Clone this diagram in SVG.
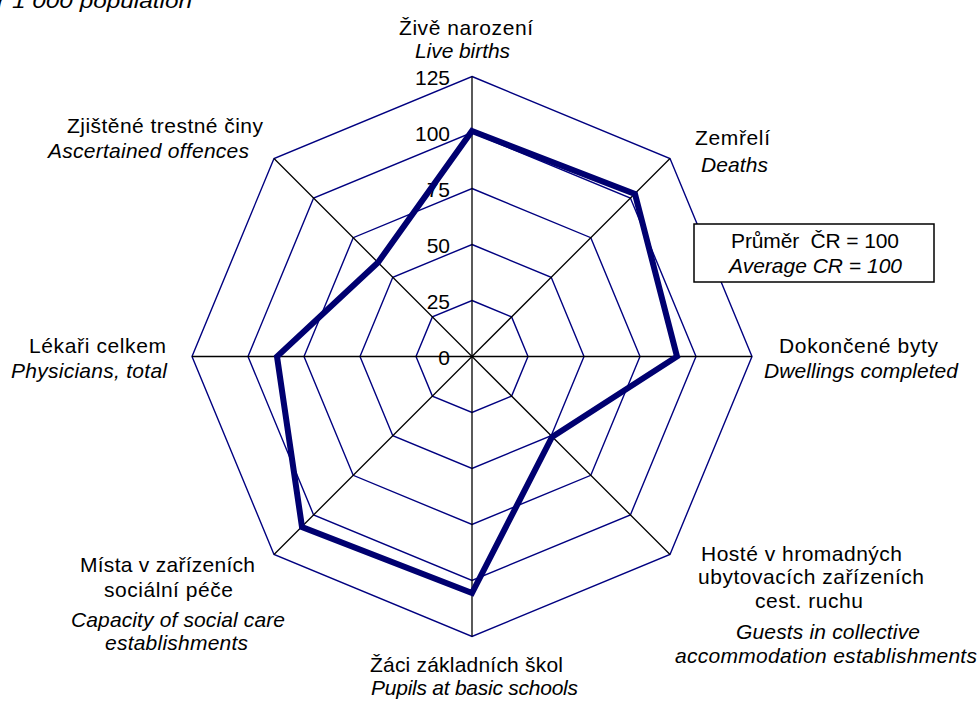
<svg xmlns="http://www.w3.org/2000/svg" width="979" height="702" viewBox="0 0 979 702">
<style>
text{font-family:"Liberation Sans",Arial,sans-serif;font-size:21px;fill:#000}
.it{font-style:italic}
.ring{fill:none;stroke:#000080;stroke-width:1.4}
.axis{stroke:#000;stroke-width:1.3}
.ax{text-anchor:end}
.data{fill:none;stroke:#000070;stroke-width:6;stroke-linejoin:miter;stroke-miterlimit:10}
</style>
<rect width="979" height="702" fill="#fff"/>
<text id="title" class="it" x="-30" y="8" textLength="222" lengthAdjust="spacingAndGlyphs">per 1 000 population</text>
<g id="grid">
<polygon class="ring" points="472,300.5 511.6,316.9 528,356.5 511.6,396.1 472,412.5 432.4,396.1 416,356.5 432.4,316.9"/>
<polygon class="ring" points="472,244.5 551.2,277.3 584,356.5 551.2,435.7 472,468.5 392.8,435.7 360,356.5 392.8,277.3"/>
<polygon class="ring" points="472,188.5 590.8,237.7 640,356.5 590.8,475.3 472,524.5 353.2,475.3 304,356.5 353.2,237.7"/>
<polygon class="ring" points="472,132.5 630.4,198.1 696,356.5 630.4,514.9 472,580.5 313.6,514.9 248,356.5 313.6,198.1"/>
<polygon class="ring" points="472,76.5 670,158.5 752,356.5 670,554.5 472,636.5 274,554.5 192,356.5 274,158.5"/>
</g>
<g id="axes">
<line class="axis" x1="472" y1="356.5" x2="472" y2="76.5"/>
<line class="axis" x1="472" y1="356.5" x2="670" y2="158.5"/>
<line class="axis" x1="472" y1="356.5" x2="752" y2="356.5"/>
<line class="axis" x1="472" y1="356.5" x2="670" y2="554.5"/>
<line class="axis" x1="472" y1="356.5" x2="472" y2="636.5"/>
<line class="axis" x1="472" y1="356.5" x2="274" y2="554.5"/>
<line class="axis" x1="472" y1="356.5" x2="192" y2="356.5"/>
<line class="axis" x1="472" y1="356.5" x2="274" y2="158.5"/>
</g>
<g id="scale">
<text class="ax" x="450" y="85">125</text>
<text class="ax" x="450" y="141">100</text>
<text class="ax" x="450" y="197">75</text>
<text class="ax" x="450" y="253">50</text>
<text class="ax" x="450" y="309">25</text>
<text class="ax" x="450" y="365">0</text>
</g>
<g id="connectors">
<polygon id="series" class="data" points="472,131 635,194 677,356.5 552,437 472,593 302,527 277,356.5 378,262.5"/>
</g>
<g id="legend-box">
<rect x="694" y="224" width="240" height="58" fill="#fff" stroke="#000" stroke-width="1.5"/>
<text x="731" y="248" textLength="168" xml:space="preserve">Průměr  ČR = 100</text>
<text class="it" x="729" y="272.5" textLength="173">Average CR = 100</text>
</g>
<g id="node-live-births">
<text x="399" y="35" textLength="134">Živě narození</text>
<text class="it" x="415" y="58" textLength="95">Live births</text>
</g>
<g id="node-deaths">
<text x="695" y="145" textLength="75">Zemřelí</text>
<text class="it" x="701" y="171.5" textLength="67">Deaths</text>
</g>
<g id="node-dwellings">
<text x="779" y="353" textLength="159">Dokončené byty</text>
<text class="it" x="764" y="378" textLength="194">Dwellings completed</text>
</g>
<g id="node-guests">
<text x="701" y="560.5" textLength="201">Hosté v hromadných</text>
<text x="698" y="584" textLength="226">ubytovacích zařízeních</text>
<text x="755" y="608" textLength="108">cest. ruchu</text>
<text class="it" x="736" y="639" textLength="184">Guests in collective</text>
<text class="it" x="675" y="663" textLength="302">accommodation establishments</text>
</g>
<g id="node-pupils">
<text x="370" y="671.5" textLength="193">Žáci základních škol</text>
<text class="it" x="371" y="695" textLength="207">Pupils at basic schools</text>
</g>
<g id="node-social-care">
<text x="80" y="571.5" textLength="175">Místa v zařízeních</text>
<text x="104" y="597" textLength="129">sociální péče</text>
<text class="it" x="71" y="626.5" textLength="214">Capacity of social care</text>
<text class="it" x="105" y="650" textLength="143">establishments</text>
</g>
<g id="node-physicians">
<text x="29" y="352.5" textLength="137">Lékaři celkem</text>
<text class="it" x="11" y="378" textLength="156">Physicians, total</text>
</g>
<g id="node-offences">
<text x="67" y="133" textLength="196">Zjištěné trestné činy</text>
<text class="it" x="48" y="158" textLength="201">Ascertained offences</text>
</g>
</svg>
